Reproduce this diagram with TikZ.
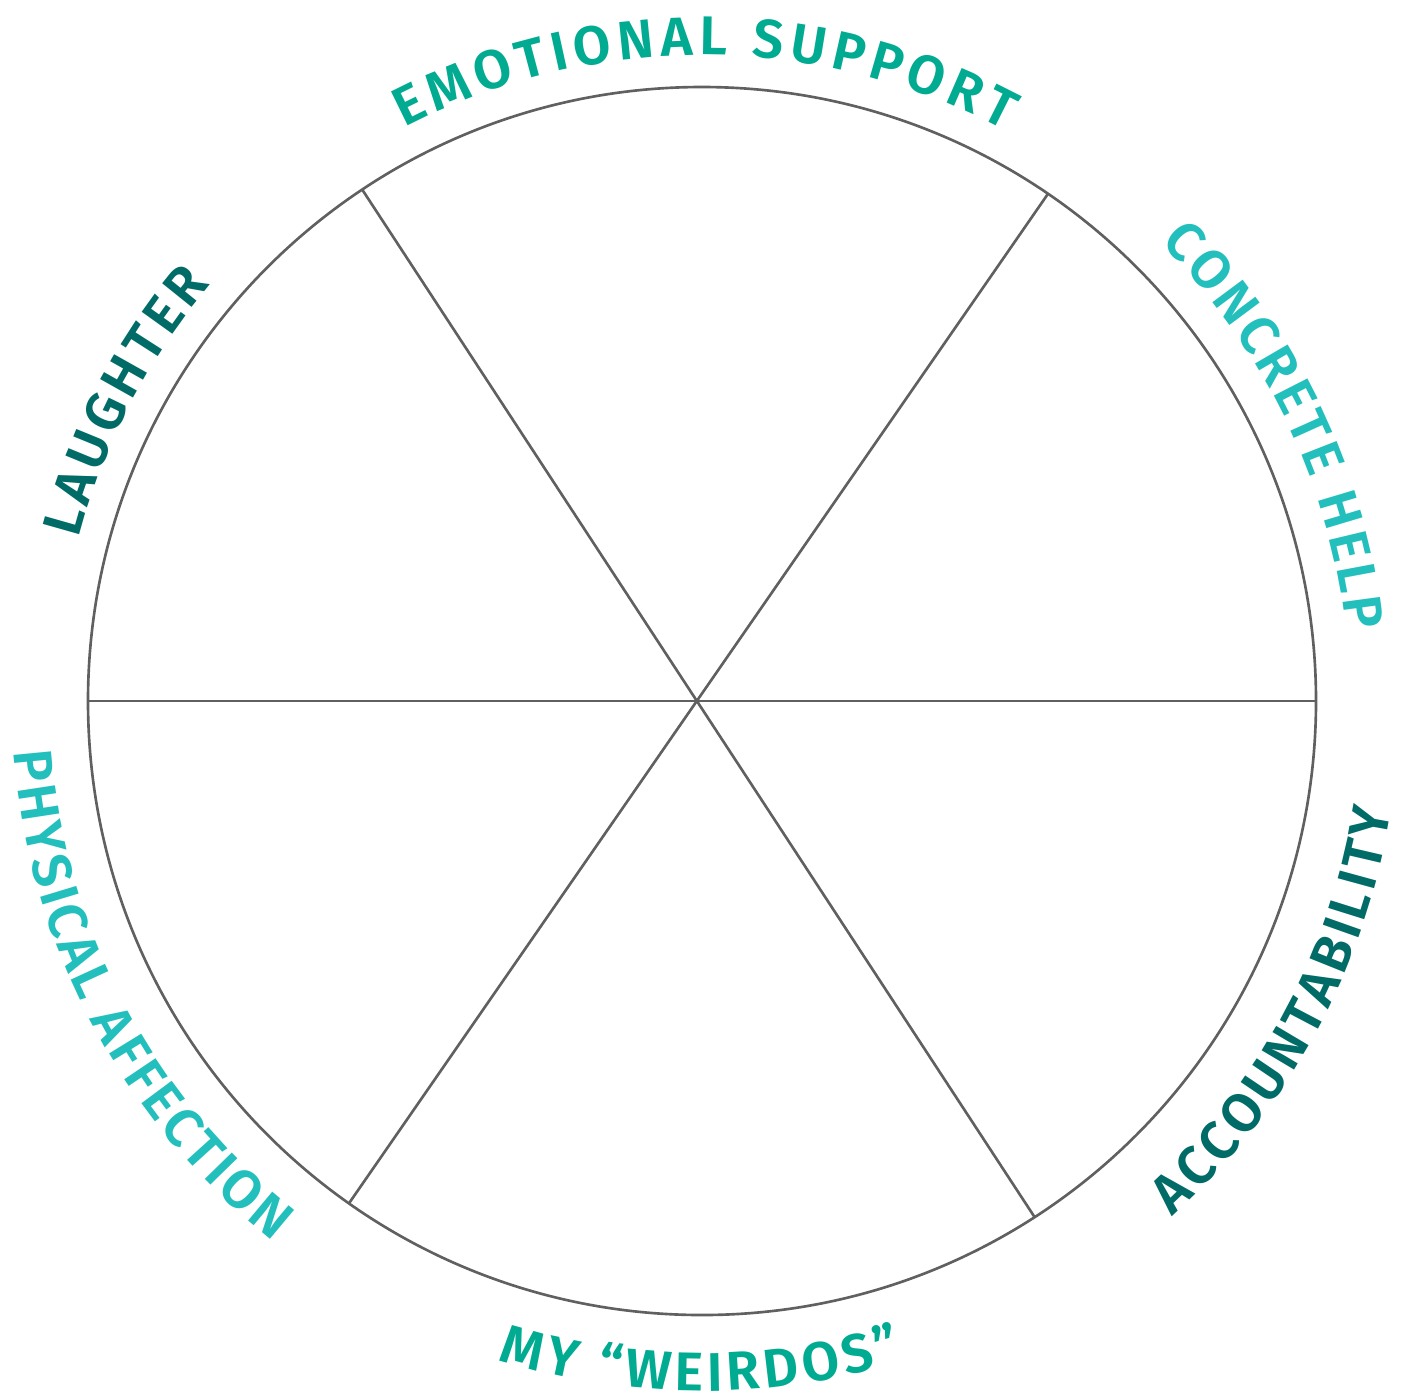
\documentclass[tikz,border=0pt]{standalone}
\usepackage{fontspec}
\newfontfamily\labelfont{Fira Sans}[UprightFont={* SemiBold}]
\usetikzlibrary{decorations.text}

\definecolor{wheelgreen}{HTML}{00AB91}
\definecolor{wheelcyan}{HTML}{22BFBD}
\definecolor{wheelteal}{HTML}{006B67}
\definecolor{wheelgrey}{HTML}{606060}

\tikzset{
  rim/.style={draw=wheelgrey, line width=0.75pt},
  arclabel/.style 2 args={decorate, decoration={text along path,
      text align={fit to path},
      text={|\labelfont\fontsize{15.5}{19}\selectfont\color{#1}|#2}}},
}

\begin{document}
\begin{tikzpicture}[x=0.01cm, y=0.01cm]
  \useasboundingbox (0,0) rectangle (1406,-1399);

  % --- ruota ---
  \coordinate (c) at (702,-701);
  \draw[rim] (c) circle[radius=614];

  % --- punti sul bordo ---
  \path (c) ++(180:614)   coordinate (w);
  \path (c) ++(0:614)     coordinate (e);
  \path (c) ++(123.6:614) coordinate (nw);
  \path (c) ++(-57.2:614) coordinate (se);
  \path (c) ++(55.7:614)  coordinate (ne);
  \path (c) ++(234.9:614) coordinate (sw);

  % --- raggi ---
  \draw[rim] (w) -- (e);
  \draw[rim] (nw) -- (se);
  \draw[rim] (ne) -- (sw);

  % --- etichette in alto (verso l'esterno) ---
  \path[arclabel={wheelgreen}{EMOTIONAL SUPPORT}]
    (c) ++(117.4:646) arc[start angle=117.4, end angle=62, radius=646];
  \path[arclabel={wheelcyan}{CONCRETE HELP}]
    (c) ++(45:648) arc[start angle=45, end angle=6.2, radius=648];
  \path[arclabel={wheelteal}{LAUGHTER}]
    (c) ++(165.4:644) arc[start angle=165.4, end angle=139.7, radius=644];

  % --- etichette in basso (verso l'interno) ---
  \path[arclabel={wheelteal}{ACCOUNTABILITY}]
    (c) ++(-47.6:698) arc[start angle=-47.6, end angle=-9, radius=698];
  \path[arclabel={wheelgreen}{MY “WEIRDOS”}]
    (c) ++(-107.2:690) arc[start angle=-107.2, end angle=-73, radius=690];
  \path[arclabel={wheelcyan}{PHYSICAL AFFECTION}]
    (c) ++(184.2:690) arc[start angle=184.2, end angle=231.6, radius=690];

\end{tikzpicture}
\end{document}
